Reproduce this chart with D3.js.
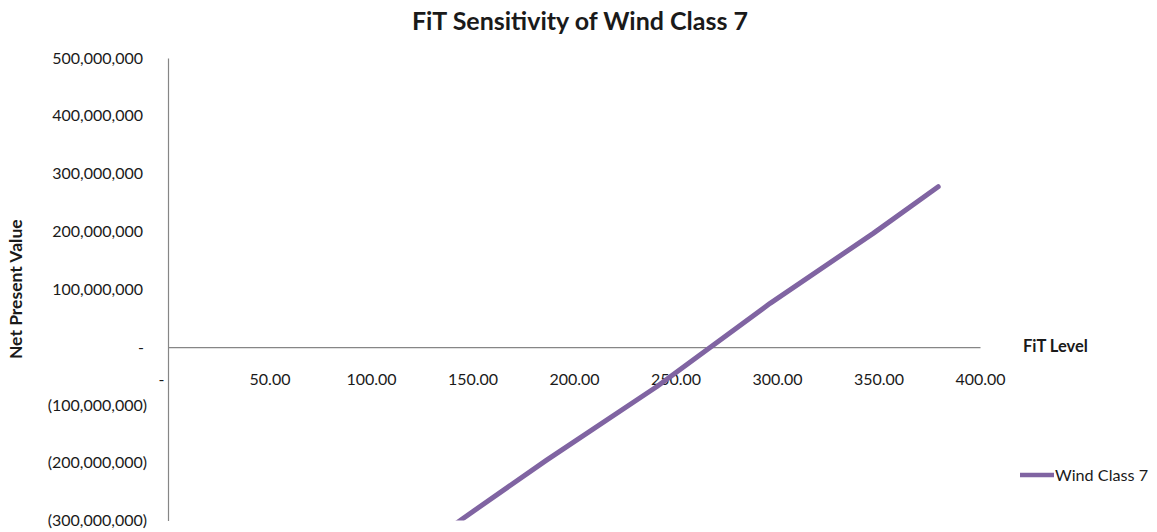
<!DOCTYPE html>
<html>
<head>
<meta charset="utf-8">
<script src="https://cdn.jsdelivr.net/npm/d3@7"></script>
<style>
  html, body { margin: 0; padding: 0; background: #fff; }
  svg { display: block; }
  text { font-family: Lato, "Open Sans", sans-serif; fill: #1a1a1a; }
</style>
</head>
<body>
<svg id="chart" width="1157" height="532"></svg>
<script>
// FiT level (x) against net present value (y) for wind class 7
const fitLevels = [140, 145.5, 186.5, 240.7, 296.6, 347.4, 379.4];
const npvValues = [-310e6, -296e6, -195.5e6, -68.7e6, 75.6e6, 196.7e6, 277.3e6];
const xTicks = [0, 50, 100, 150, 200, 250, 300, 350, 400];
const yTicks = [-300e6, -200e6, -100e6, 0, 100e6, 200e6, 300e6, 400e6, 500e6];
const seriesName = "Wind Class 7";
const chartTitle = "FiT Sensitivity of Wind Class 7";
const xTitle = "FiT Level";
const yTitle = "Net Present Value";
const lineColor = "#8064A2";

const svg = d3.select("#chart");
const plot = { left: 168, right: 980, top: 58, bottom: 520.5 };

const x = d3.scaleLinear().domain([0, 400]).range([plot.left, plot.right]);
const y = d3.scaleLinear().domain([-300e6, 500e6]).range([plot.bottom, plot.top]);

const num = d3.format(",.0f");
const yFmt = d => d === 0 ? "-" : d < 0 ? "(" + num(-d) + ")" : num(d);
const xFmt = d => d === 0 ? "-" : d3.format(".2f")(d);

// Title
svg.append("text")
  .attr("x", 580).attr("y", 30)
  .attr("text-anchor", "middle")
  .style("font-size", "25px").style("font-weight", "bold")
  .text(chartTitle);

// Y axis (vertical line at x = 0)
const yAxis = svg.append("g")
  .attr("transform", `translate(${x(0)},0)`)
  .call(d3.axisLeft(y).tickValues(yTicks).tickFormat(yFmt).tickSize(0).tickPadding(0));
yAxis.select(".domain").attr("stroke", "#868686").attr("stroke-width", 1.2);
yAxis.selectAll(".tick text")
  .style("font-size", "16px").style("font-family", "Lato, sans-serif").attr("fill", "#1a1a1a")
  .attr("x", d => d < 0 ? -21 : d === 0 ? -24 : -25);

// X axis (horizontal line at y = 0)
const xAxis = svg.append("g")
  .attr("transform", `translate(0,${y(0)})`)
  .call(d3.axisBottom(x).tickValues(xTicks).tickFormat(xFmt).tickSize(0).tickPadding(0));
xAxis.select(".domain").attr("stroke", "#868686").attr("stroke-width", 1.2);
xAxis.selectAll(".tick text")
  .style("font-size", "16px").style("font-family", "Lato, sans-serif").attr("fill", "#1a1a1a")
  .attr("y", 27)
  .attr("dx", d => d === 0 ? -7 : 0);

// Axis titles
svg.append("text")
  .attr("transform", `translate(22,${(plot.top + plot.bottom) / 2}) rotate(-90)`)
  .attr("text-anchor", "middle")
  .style("font-size", "17.5px").style("font-weight", "bold")
  .text(yTitle);
svg.append("text")
  .attr("x", 1023).attr("y", 352)
  .style("font-size", "16.5px").style("font-weight", "bold")
  .text(xTitle);

// Series line, clipped to the plot area
svg.append("defs").append("clipPath").attr("id", "plotClip")
  .append("rect")
  .attr("x", plot.left).attr("y", plot.top)
  .attr("width", plot.right - plot.left).attr("height", plot.bottom - plot.top);

const pts = fitLevels.map((f, i) => [f, npvValues[i]]);
svg.append("path")
  .datum(pts)
  .attr("clip-path", "url(#plotClip)")
  .attr("fill", "none")
  .attr("stroke", lineColor)
  .attr("stroke-width", 5)
  .attr("stroke-linejoin", "round")
  .attr("stroke-linecap", "round")
  .attr("d", d3.line().x(d => x(d[0])).y(d => y(d[1])));

// Legend
const legend = svg.append("g").attr("transform", "translate(1020,475)");
legend.append("line")
  .attr("x1", 0).attr("x2", 34).attr("y1", 0).attr("y2", 0)
  .attr("stroke", lineColor).attr("stroke-width", 4.5);
legend.append("text")
  .attr("x", 35).attr("y", 5.5)
  .style("font-size", "16.2px")
  .text(seriesName);
</script>
</body>
</html>
